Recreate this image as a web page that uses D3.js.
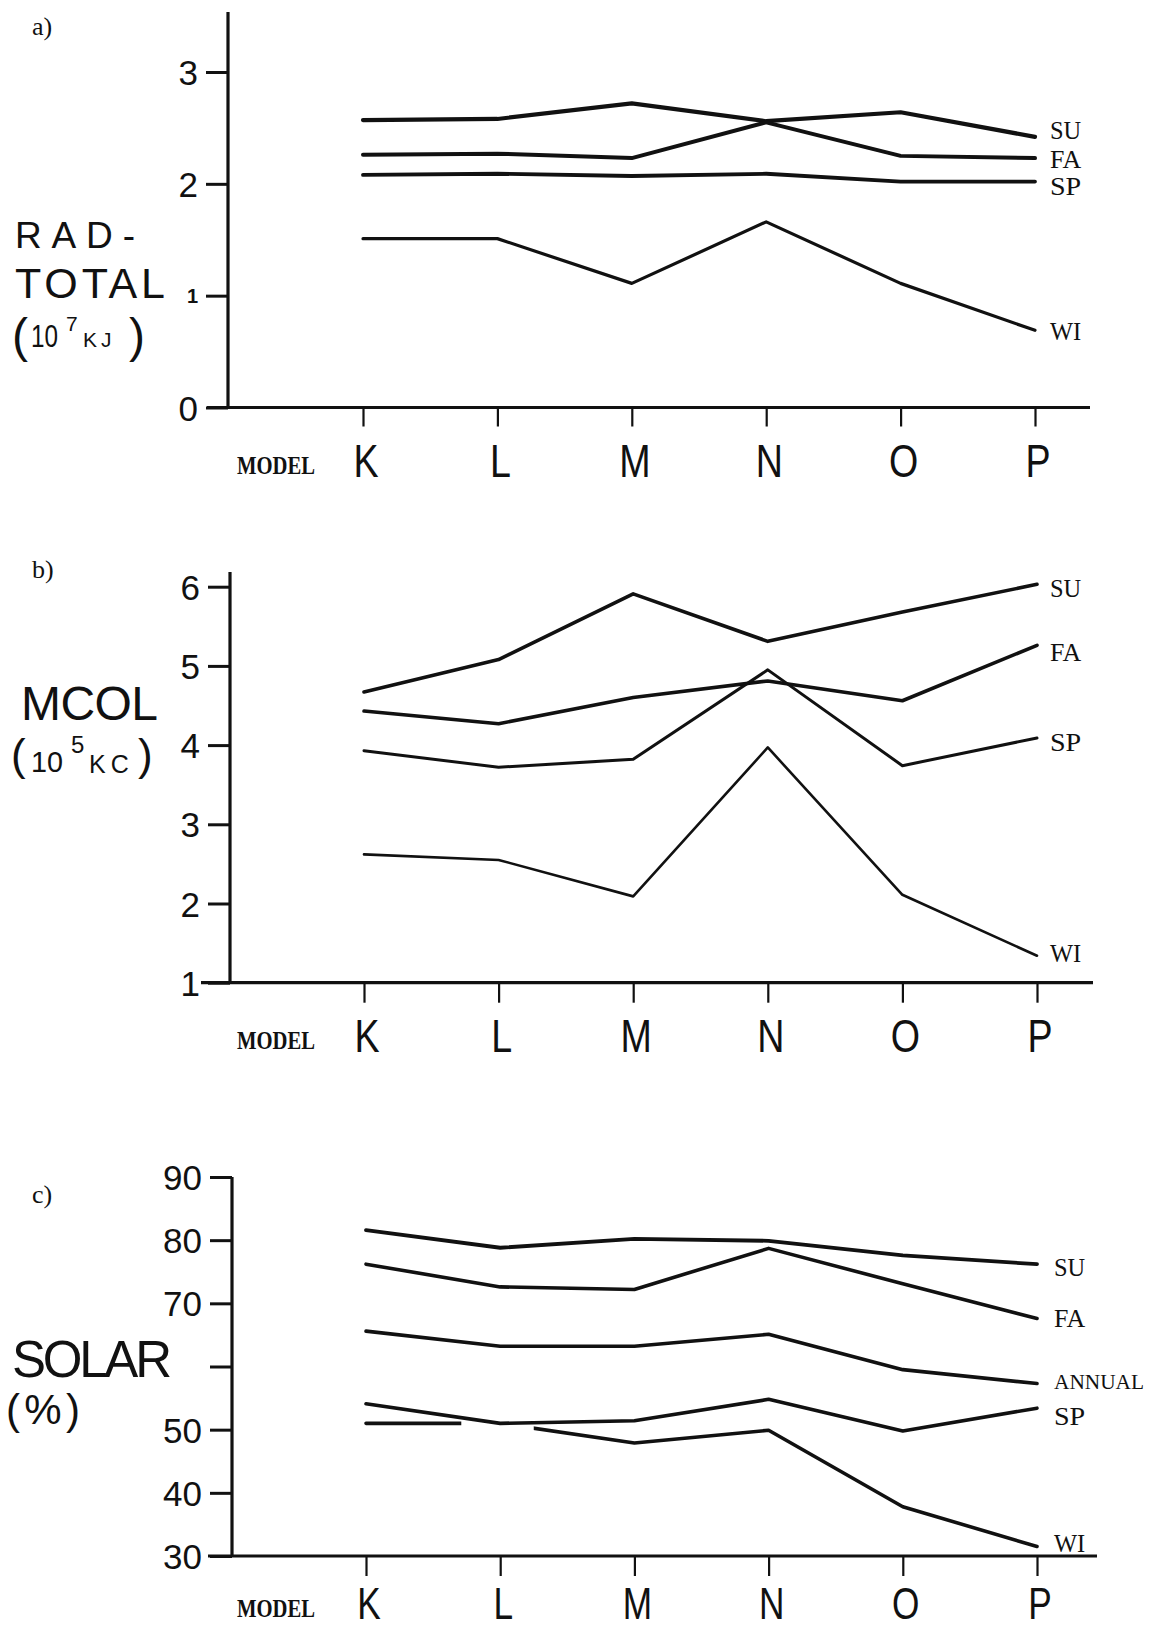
<!DOCTYPE html>
<html>
<head>
<meta charset="utf-8">
<script src="https://cdn.jsdelivr.net/npm/d3@7"></script>
<style>
  html, body { margin: 0; padding: 0; background: #fff; }
  svg { display: block; }
  .hand { font-family: "Liberation Sans", "DejaVu Sans", sans-serif; fill: #111; }
  .type { font-family: "Liberation Serif", "DejaVu Serif", serif; fill: #111; }
</style>
</head>
<body>
<svg id="chart" width="1152" height="1630"></svg>
<script>
// ---- data ------------------------------------------------------------
const models = ["K", "L", "M", "N", "O", "P"];

// a) RAD-TOTAL (10^7 kJ)
const radTicks = [0, 1, 2, 3];
const radSU = [2.57, 2.58, 2.72, 2.56, 2.64, 2.42];
const radFA = [2.26, 2.27, 2.23, 2.55, 2.25, 2.23];
const radSP = [2.08, 2.09, 2.07, 2.09, 2.02, 2.02];
const radWI = [1.51, 1.51, 1.11, 1.66, 1.11, 0.69];

// b) MCOL (10^5 kcal)
const mcolTicks = [1, 2, 3, 4, 5, 6];
const mcolSU = [4.67, 5.08, 5.91, 5.31, 5.68, 6.03];
const mcolFA = [4.43, 4.27, 4.60, 4.81, 4.56, 5.26];
const mcolSP = [3.93, 3.72, 3.82, 4.95, 3.74, 4.09];
const mcolWI = [2.62, 2.55, 2.09, 3.97, 2.11, 1.34];

// c) SOLAR (%)
const solarTicks = [30, 40, 50, 60, 70, 80, 90];
const solarTickLabels = ["30", "40", "50", "", "70", "80", "90"];
const solarSU = [81.6, 78.8, 80.2, 79.9, 77.6, 76.2];
const solarFA = [76.2, 72.6, 72.2, 78.7, 73.1, 67.6];
const solarANNUAL = [65.6, 63.2, 63.2, 65.1, 59.5, 57.3];
const solarSP = [54.1, 51.0, 51.4, 54.8, 49.8, 53.4];
const solarWI = [51.0, 51.0, 47.9, 49.9, 37.8, 31.5];

// ---- drawing ---------------------------------------------------------
const svg = d3.select("#chart");
const INK = "#111";

function panel(cfg) {
  const g = svg.append("g");
  const x = d3.scalePoint().domain(models).range(cfg.xRange);
  const y = d3.scaleLinear().domain(cfg.yDomain).range(cfg.yRange);

  // panel tag
  g.append("text").attr("class", "type")
    .attr("x", 32).attr("y", cfg.tagY)
    .attr("font-size", 26).text(cfg.tag);

  // y axis ticks + labels
  const yAxis = d3.axisLeft(y)
    .tickValues(cfg.ticks)
    .tickSize(22)
    .tickPadding(8)
    .tickFormat((d, i) => cfg.tickLabels ? cfg.tickLabels[i] : String(d));
  const ya = g.append("g").attr("transform", `translate(${cfg.axisX},0)`).call(yAxis);
  ya.select(".domain").remove();
  ya.selectAll(".tick line").attr("stroke", INK).attr("stroke-width", 3);
  ya.selectAll(".tick text")
    .attr("class", "hand")
    .attr("font-size", 35)
    .attr("fill", INK)
    .attr("dy", "0.36em");
  if (cfg.smallTick !== undefined) {
    ya.selectAll(".tick").filter(d => d === cfg.smallTick)
      .select("text").attr("font-size", 20).attr("font-weight", "bold");
  }

  // vertical axis line
  g.append("line")
    .attr("x1", cfg.axisX).attr("x2", cfg.axisX)
    .attr("y1", cfg.axisTop).attr("y2", y(cfg.yDomain[0]) + 1)
    .attr("stroke", INK).attr("stroke-width", 3.2);

  // horizontal axis line
  const baseY = y(cfg.yDomain[0]);
  g.append("line")
    .attr("x1", cfg.axisLeft).attr("x2", cfg.axisRight)
    .attr("y1", baseY).attr("y2", baseY)
    .attr("stroke", INK).attr("stroke-width", 3.2);

  // x ticks
  const xAxis = d3.axisBottom(x).tickSize(cfg.xTickLen).tickFormat("");
  const xa = g.append("g").attr("transform", `translate(0,${baseY})`).call(xAxis);
  xa.select(".domain").remove();
  xa.selectAll(".tick line").attr("stroke", INK).attr("stroke-width", 2.2);

  // model letters (hand lettered, narrow)
  g.selectAll("text.model").data(models).join("text")
    .attr("class", "hand model")
    .attr("text-anchor", "middle")
    .attr("font-size", cfg.letterSize)
    .attr("transform", d => `translate(${x(d) + 3},${cfg.letterBase}) scale(0.8,1)`)
    .text(d => d);

  g.append("text").attr("class", "type")
    .attr("x", 237).attr("y", cfg.modelBase)
    .attr("font-size", 26).attr("font-weight", "bold")
    .attr("textLength", 78).attr("lengthAdjust", "spacingAndGlyphs")
    .text("MODEL");

  // series lines
  const line = d3.line().x((d, i) => x(models[i])).y(d => y(d));
  cfg.series.forEach(s => {
    const p = g.append("path")
      .datum(s.values)
      .attr("d", line)
      .attr("fill", "none")
      .attr("stroke", INK)
      .attr("stroke-width", s.w)
      .attr("stroke-linejoin", "round")
      .attr("stroke-linecap", "round");
    if (s.breakAt) {
      // pen lifted where the line runs into its neighbour
      const id = "brk-" + cfg.tag.replace(/\W/g, "") + s.name;
      const step = x.step();
      const cx = x(s.breakAt);
      const cp = svg.append("defs").append("clipPath").attr("id", id);
      cp.append("rect").attr("x", 0).attr("y", 0)
        .attr("width", cx - 0.29 * step).attr("height", 1630);
      cp.append("rect").attr("x", cx + 0.25 * step).attr("y", 0)
        .attr("width", 1152).attr("height", 1630);
      p.attr("clip-path", `url(#${id})`);
    }
    const long = s.name.length > 3;
    g.append("text").attr("class", "type")
      .attr("x", cfg.labelX)
      .attr("y", y(s.values[s.values.length - 1]) + s.dy + 8.5)
      .attr("font-size", long ? 21 : 25)
      .attr("textLength", long ? 90 : s.name.length * 15.6)
      .attr("lengthAdjust", "spacingAndGlyphs")
      .text(s.name);
  });
  return g;
}

// a) RAD-TOTAL
panel({
  tag: "a)", tagY: 35,
  xRange: [363, 1035],
  yDomain: [0, 3], yRange: [407.5, 72],
  ticks: radTicks, smallTick: 1,
  axisX: 228, axisTop: 12, axisLeft: 207, axisRight: 1090,
  xTickLen: 19, letterBase: 477, letterSize: 47, modelBase: 474, labelX: 1050,
  series: [
    { name: "SU", values: radSU, w: 4.2, dy: -6 },
    { name: "FA", values: radFA, w: 4.0, dy: 1 },
    { name: "SP", values: radSP, w: 3.8, dy: 5 },
    { name: "WI", values: radWI, w: 3.2, dy: 1 }
  ]
});

// b) MCOL
panel({
  tag: "b)", tagY: 578,
  xRange: [364, 1037],
  yDomain: [1, 6], yRange: [982.7, 586.7],
  ticks: mcolTicks,
  axisX: 230, axisTop: 572, axisLeft: 201, axisRight: 1093,
  xTickLen: 20, letterBase: 1052, letterSize: 47, modelBase: 1049, labelX: 1050,
  series: [
    { name: "SU", values: mcolSU, w: 3.6, dy: 4 },
    { name: "FA", values: mcolFA, w: 3.6, dy: 7 },
    { name: "SP", values: mcolSP, w: 3.0, dy: 5 },
    { name: "WI", values: mcolWI, w: 2.6, dy: -2 }
  ]
});

// c) SOLAR
panel({
  tag: "c)", tagY: 1203,
  xRange: [366, 1037],
  yDomain: [30, 90], yRange: [1556, 1177],
  ticks: solarTicks, tickLabels: solarTickLabels,
  axisX: 232, axisTop: 1177, axisLeft: 208, axisRight: 1097,
  xTickLen: 20, letterBase: 1619, letterSize: 44, modelBase: 1617, labelX: 1054,
  series: [
    { name: "SU", values: solarSU, w: 3.8, dy: 3 },
    { name: "FA", values: solarFA, w: 3.6, dy: 0 },
    { name: "ANNUAL", values: solarANNUAL, w: 3.6, dy: -3 },
    { name: "SP", values: solarSP, w: 3.6, dy: 8 },
    { name: "WI", values: solarWI, w: 3.6, dy: -3 }
  ].map(s => s.name === "WI" ? Object.assign(s, { breakAt: "L" }) : s)
});

// ---- y-axis titles ---------------------------------------------------
function t(x, y, size, str, len, adj) {
  const el = svg.append("text").attr("class", "hand")
    .attr("x", x).attr("y", y).attr("font-size", size).text(str);
  if (len) el.attr("textLength", len).attr("lengthAdjust", adj || "spacing");
  return el;
}

// a)
t(15, 248, 37, "RAD-", 120);
t(15, 298, 43, "TOTAL", 150);
t(12, 352, 48, "(");
t(31, 347, 31, "10", 27, "spacingAndGlyphs");
t(66, 331, 21, "7");
t(83, 347, 21, "KJ").attr("letter-spacing", 4);
t(129, 352, 48, ")");

// b)
t(21, 720, 48, "MCOL", 137);
t(11, 770, 44, "(");
t(31, 772, 30, "10", 32, "spacingAndGlyphs");
t(71, 753, 24, "5");
t(89, 773, 25, "KC").attr("letter-spacing", 5);
t(138, 770, 44, ")");

// c)
t(12, 1377, 51, "SOLAR", 160);
t(6, 1424, 42, "(%)", 74);
</script>
</body>
</html>
